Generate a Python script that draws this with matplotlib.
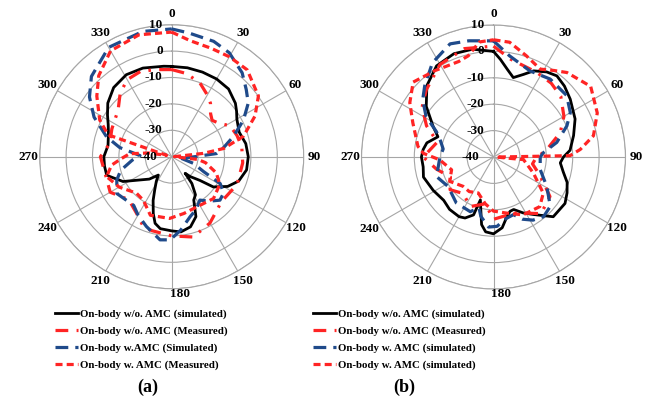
import numpy as np
import matplotlib.pyplot as plt

plt.rcParams['font.family'] = ['Liberation Serif', 'DejaVu Serif']
plt.rcParams['font.weight'] = 'bold'

# ---- data (angle in degrees, gain in dB) ----
# (a)
a_sim_wo_ang = [0, 10, 20, 30, 40, 50, 55, 60, 70, 80, 90, 100, 110, 118, 126, 130, 137, 141, 143, 148, 153,
                158, 165, 173, 180, 189, 194, 198, 203, 207, 212, 216, 225, 234, 243, 254, 262, 270, 280, 290,
                297, 303, 310, 320, 331, 342, 355, 360]
a_sim_wo = [-5.8, -5.8, -5.9, -6.0, -6.5, -8.5, -10, -11.5, -12.8, -11.5, -11, -11.2, -13, -16, -20.5, -26, -29.7,
            -31.9, -27.3, -23, -21.6, -15.5, -12.5, -11.3, -11.9, -12.4, -14, -17.4, -22, -25.8, -29, -31.4, -28,
            -25, -19.3, -14.4, -14.3, -14.3, -15.5, -14.5, -13, -11, -8.4, -5.8, -4.5, -4.7, -5.6, -5.8]

a_meas_wo_ang = [0, 10, 21, 30, 36, 42, 48, 55, 62, 72, 82, 95, 113, 132, 150, 165, 180, 195, 202, 212, 225,
                 240, 255, 270, 282, 295, 311, 321, 330, 340, 350, 360]
a_meas_wo = [-7, -8, -10.1, -13, -15, -18, -19.4, -18, -15, -14, -13.2, -13, -13.1, -14.6, -11, -8.5, -10, -11,
             -11.4, -14.8, -17, -13.1, -14, -13, -16, -15, -13.1, -9, -6.3, -5.6, -6.5, -7]

a_sim_w_ang = [0, 8, 20, 29, 40, 48, 55, 63, 72, 80, 86, 92, 97, 107, 115, 119, 125, 132, 140, 147, 155, 163,
               173, 181, 188, 200, 210, 218, 236, 247, 255, 265, 272, 280, 287, 297, 306, 315, 330, 347, 360]
a_sim_w = [8.4, 7.3, 6.5, 5, 1.5, -2, -4.6, -9.5, -15.5, -20, -23, -33, -37, -31.4, -26.7, -19, -16, -15.4, -18,
           -20.4, -18, -16.2, -12, -8.5, -8.2, -11.9, -14.5, -16.6, -15, -17.4, -20, -25, -28, -20, -14.2, -7,
           -1.5, 3, 7.8, 8.7, 8.4]

a_meas_w_ang = [0, 9, 20, 30, 41, 55, 64, 74, 81, 84, 89, 96, 100, 110, 120, 135, 150, 168, 182, 200, 213, 224,
                240, 253, 262, 268, 274, 279, 285, 289, 297, 309, 318, 330, 345, 360]
a_meas_w = [7.2, 4.5, 3.7, 3.7, 3.6, 0.1, -4.9, -11.7, -20, -28, -39, -30, -27, -22, -19, -17.6, -18.7, -18,
            -16.6, -16.4, -20.3, -20.8, -17, -14.2, -17, -21, -24, -31, -38, -14.5, -9.4, -3.5, 1.3, 6.3, 7.8, 7.2]

# (b)
b_sim_wo_ang = [0, 4, 9, 14, 20, 25, 32, 38, 45, 53, 65, 75, 85, 90, 95, 102, 109, 116, 123, 135, 145, 152, 159,
                163, 167, 173, 180, 186, 190, 194, 197, 199, 205, 210, 220, 229, 241, 254, 262, 270, 276, 282,
                290, 297, 307, 317, 328, 339, 349, 360]
b_sim_wo = [0, -2.9, -6.4, -9, -6.7, -4, -2, -1, -2, -3.6, -5.9, -8.6, -10.9, -13.5, -14.6, -13, -10.5, -9, -7.7,
            -8, -13.4, -16, -18.7, -18.5, -17, -13, -10.9, -11.5, -14, -20, -23, -16.8, -14.5, -13.9, -14.1,
            -15, -13.9, -12.4, -13.1, -12.7, -13.2, -14.2, -17.6, -14.3, -8.1, -3, 0.7, 1.9, 1.6, 0]

b_meas_wo_ang = [0, 10, 27, 38, 48, 60, 70, 82, 92, 100, 112, 125, 140, 157, 171, 180, 190, 205, 220, 233, 245,
                 258, 270, 285, 295, 305, 315, 330, 345, 360]
b_meas_wo = [2, -2.4, -4, -4.5, -5.7, -9.2, -13.1, -19.6, -24, -25, -20.9, -13.9, -12, -17, -17.2, -16.4, -22,
             -19.3, -22, -19.4, -22, -17.9, -13.4, -18, -12, -7, -4, 0.5, 2.5, 2]

b_sim_w_ang = [0, 9, 23, 36, 50, 60, 67, 77, 85, 90, 105, 119, 131, 140, 148, 155, 161, 170, 177, 184, 192, 196,
               203, 219, 237, 251, 262, 270, 279, 287, 294, 301, 309, 316, 327, 339, 348, 360]
b_sim_w = [4, -1.2, -4.6, -3.5, -3.8, -6.4, -9.8, -15.4, -21, -22.3, -21.7, -16.9, -11.5, -10.5, -11.8, -14,
           -16.9, -16, -13.7, -13.4, -17, -20, -17.5, -17.6, -19.5, -17.2, -19, -19.7, -20.7, -19, -16.3, -10.2,
           -5.5, -2.5, 2.5, 5.9, 5, 4]

b_meas_w_ang = [0, 8, 18, 28, 35, 41, 54, 67, 78, 85, 89, 91, 95, 112, 126, 137, 153, 167, 180, 190, 203, 215,
                226, 241, 253, 267, 273, 278, 293, 303, 313, 326, 340, 346, 353, 360]
b_meas_w = [4.4, 3.9, 0.3, -2.3, 0, 2.4, 5.5, 2.7, -1.3, -7, -11, -39, -28.6, -23.7, -16.7, -14.3, -15.4, -18.2,
            -19.5, -22, -25.2, -24, -24, -21, -23.4, -19.6, -13.4, -11.1, -6.8, -2.2, 1.6, -0.5, -1.5, -0.5,
            3.9, 4.4]

r_ticks = [-40, -30, -20, -10, 0, 10]
theta_ticks = list(range(0, 360, 30))

labels_a = ['On-body w/o. AMC (simulated)', 'On-body w/o. AMC (Measured)',
            'On-body w.AMC (Simulated)', 'On-body w. AMC (Measured)']
labels_b = ['On-body w/o. AMC (simulated)', 'On-body w/o. AMC (Measured)',
            'On-body w. AMC (simulated)', 'On-body w. AMC (simulated)']

RED = '#ff2424'
BLUE = '#1f4a8a'
styles = [dict(color='black', lw=2.0, ls='-'),
          dict(color=RED, lw=2.3, ls=(0, (4, 2.6, 0.8, 2.6))),
          dict(color=BLUE, lw=2.3, ls=(0, (4, 2.2))),
          dict(color=RED, lw=2.3, ls=(0, (2.2, 1.3)))]

fig = plt.figure(figsize=(6.54, 4.07), dpi=100)
W, H = 654, 407
R = 132


def polar(cx, cy, series, labels, leg_x, tag, tag_x):
    ax = fig.add_axes([(cx - R) / W, (H - cy - R) / H, 2 * R / W, 2 * R / H], projection='polar')
    ax.set_theta_zero_location('N')
    ax.set_theta_direction(-1)
    for (ang, val), st, lab in zip(series, styles, labels):
        ax.plot(np.deg2rad(ang), val, label=lab, **st)
    ax.set_ylim(-40, 10)
    ax.set_yticks(r_ticks)
    ax.set_yticklabels([])
    ax.set_thetagrids(theta_ticks, [''] * len(theta_ticks))
    ax.grid(color='#a6a6a6', lw=0.8)
    ax.spines['polar'].set_color('#a6a6a6')
    ax.spines['polar'].set_linewidth(0.8)
    # angle labels just outside the outer ring
    for t in theta_ticks:
        d = 5 if t == 180 else 11
        a = np.deg2rad(t)
        ax.annotate(str(t), xy=(a, 10), xytext=(d * np.sin(a) + (8 if t == 180 else 0), d * np.cos(a)),
                    textcoords='offset pixels', ha='center', va='center',
                    fontsize=9.5, fontweight='bold', annotation_clip=False)
    # radial labels along the 0 spoke
    for v in r_ticks:
        off = -14 if v == -40 else -9
        ax.annotate(str(v), xy=(0, v), xytext=(off, 0), textcoords='offset pixels',
                    ha='right', va='center', fontsize=9.5, fontweight='bold')
    ax.legend(loc='upper left', bbox_to_anchor=(leg_x / W, 1 - 309.5 / H),
              bbox_transform=fig.transFigure, frameon=False, fontsize=7.8,
              handlelength=2.15, handletextpad=0.2, labelspacing=0.66, borderpad=0, borderaxespad=0)
    fig.text(tag_x / W, 1 - 387 / H, tag, ha='center', va='center', fontsize=13, fontweight='bold')
    return ax


polar(171.7, 156.7,
      [(a_sim_wo_ang, a_sim_wo), (a_meas_wo_ang, a_meas_wo), (a_sim_w_ang, a_sim_w), (a_meas_w_ang, a_meas_w)],
      labels_a, 55, '(a)', 148)
polar(493.5, 157,
      [(b_sim_wo_ang, b_sim_wo), (b_meas_wo_ang, b_meas_wo), (b_sim_w_ang, b_sim_w), (b_meas_w_ang, b_meas_w)],
      labels_b, 313, '(b)', 404)

fig.savefig('out.png', dpi=100, facecolor='white')
